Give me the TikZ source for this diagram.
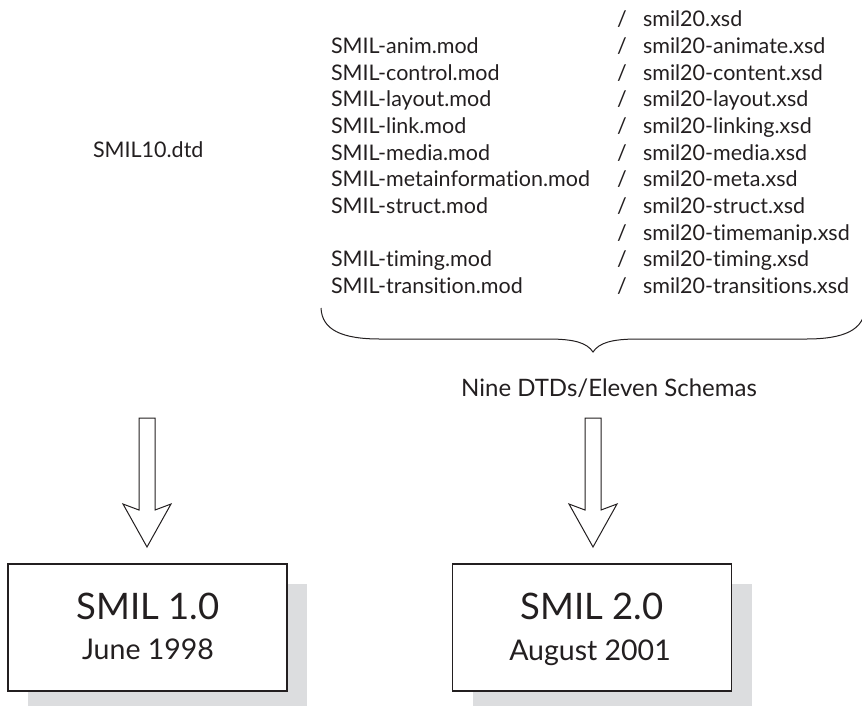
\documentclass[tikz,border=0pt]{standalone}
\usepackage{fontspec}
\setmainfont[Ligatures=NoCommon]{Lato}
\usetikzlibrary{backgrounds}
\definecolor{ink}{HTML}{231F20}
\definecolor{shadowgray}{HTML}{DCDDDF}
\begin{document}
\begin{tikzpicture}[x=1pt,y=-1pt,
  item/.style={anchor=base west, inner sep=0pt, outer sep=0pt, font=\fontsize{21.5}{25}\selectfont, text=ink},
  title/.style={anchor=base, inner sep=0pt, outer sep=0pt, font=\fontsize{36.5}{40}\selectfont, text=ink},
  date/.style={anchor=base, inner sep=0pt, outer sep=0pt, font=\fontsize{28.5}{32}\selectfont, text=ink},
  caption/.style={anchor=base, inner sep=0pt, outer sep=0pt, font=\fontsize{24}{28}\selectfont, text=ink},
  verbox/.style={draw=ink, line width=1.2pt, fill=white, minimum width=279pt, minimum height=127pt, inner sep=0pt, outer sep=0pt},
  blockarr/.style={draw=ink, line width=1pt, fill=white, line join=miter},
  bracestyle/.style={draw=ink, line width=1pt}]
\useasboundingbox (0,0) rectangle (862,705);

% left DTD
\node[item] (dtd) at (93,157) {SMIL10.dtd};

% module list
\node[item] (l2) at (331,53) {SMIL-anim.mod};
\node[item] (l3) at (331,80) {SMIL-control.mod};
\node[item] (l4) at (331,106) {SMIL-layout.mod};
\node[item] (l5) at (331,133) {SMIL-link.mod};
\node[item] (l6) at (331,160) {SMIL-media.mod};
\node[item] (l7) at (331,186) {SMIL-metainformation.mod};
\node[item] (l8) at (331,213) {SMIL-struct.mod};
\node[item] (l10) at (331,266) {SMIL-timing.mod};
\node[item] (l11) at (331,293) {SMIL-transition.mod};

\foreach \i/\y in {1/26,2/53,3/80,4/106,5/133,6/160,7/186,8/213,9/240,10/266,11/293}
  \node[item] (s\i) at (617,\y) {/};

\node[item] (r1) at (643,26) {smil20.xsd};
\node[item] (r2) at (643,53) {smil20-animate.xsd};
\node[item] (r3) at (643,80) {smil20-content.xsd};
\node[item] (r4) at (643,106) {smil20-layout.xsd};
\node[item] (r5) at (643,133) {smil20-linking.xsd};
\node[item] (r6) at (643,160) {smil20-media.xsd};
\node[item] (r7) at (643,186) {smil20-meta.xsd};
\node[item] (r8) at (643,213) {smil20-struct.xsd};
\node[item] (r9) at (643,240) {smil20-timemanip.xsd};
\node[item] (r10) at (643,266) {smil20-timing.xsd};
\node[item] (r11) at (643,293) {smil20-transitions.xsd};

% brace
\coordinate (brL) at (321,308);
\coordinate (brTip) at (593,352);
\coordinate (brR) at (865,308);
\draw[bracestyle] (brL) .. controls (322,330) and (342,339) .. (380,339)
  -- (548,339) .. controls (575,339) and (587,343) .. (brTip)
  .. controls (599,343) and (611,339) .. (638,339)
  -- (806,339) .. controls (844,339) and (864,330) .. (brR);

\node[caption] (cap) at (609,396) {Nine DTDs/Eleven Schemas};

% boxes
\node[verbox] (b1) at (147.5,627.5) {};
\node[verbox] (b2) at (592,627.5) {};
\begin{scope}[on background layer]
  \fill[shadowgray] ([xshift=20pt,yshift=-20pt]b1.south west) rectangle ([xshift=20pt,yshift=-20pt]b1.north east);
  \fill[shadowgray] ([xshift=20pt,yshift=-20pt]b2.south west) rectangle ([xshift=20pt,yshift=-20pt]b2.north east);
\end{scope}
\node[title] (t1) at (148,619) {SMIL 1.0};
\node[date] (d1) at (148,659) {June 1998};
\node[title] (t2) at (592,619) {SMIL 2.0};
\node[date] (d2) at (590,660) {August 2001};

% block arrows
\coordinate (a1) at (147,418);
\coordinate (a2) at (593,418);
\foreach \a in {a1,a2}
  \draw[blockarr] (\a) ++(-8,0) -- ++(16,0) -- ++(0,92) -- ++(16,-6) -- ++(-24,43) -- ++(-24,-43) -- ++(16,6) -- cycle;
\end{tikzpicture}
\end{document}
